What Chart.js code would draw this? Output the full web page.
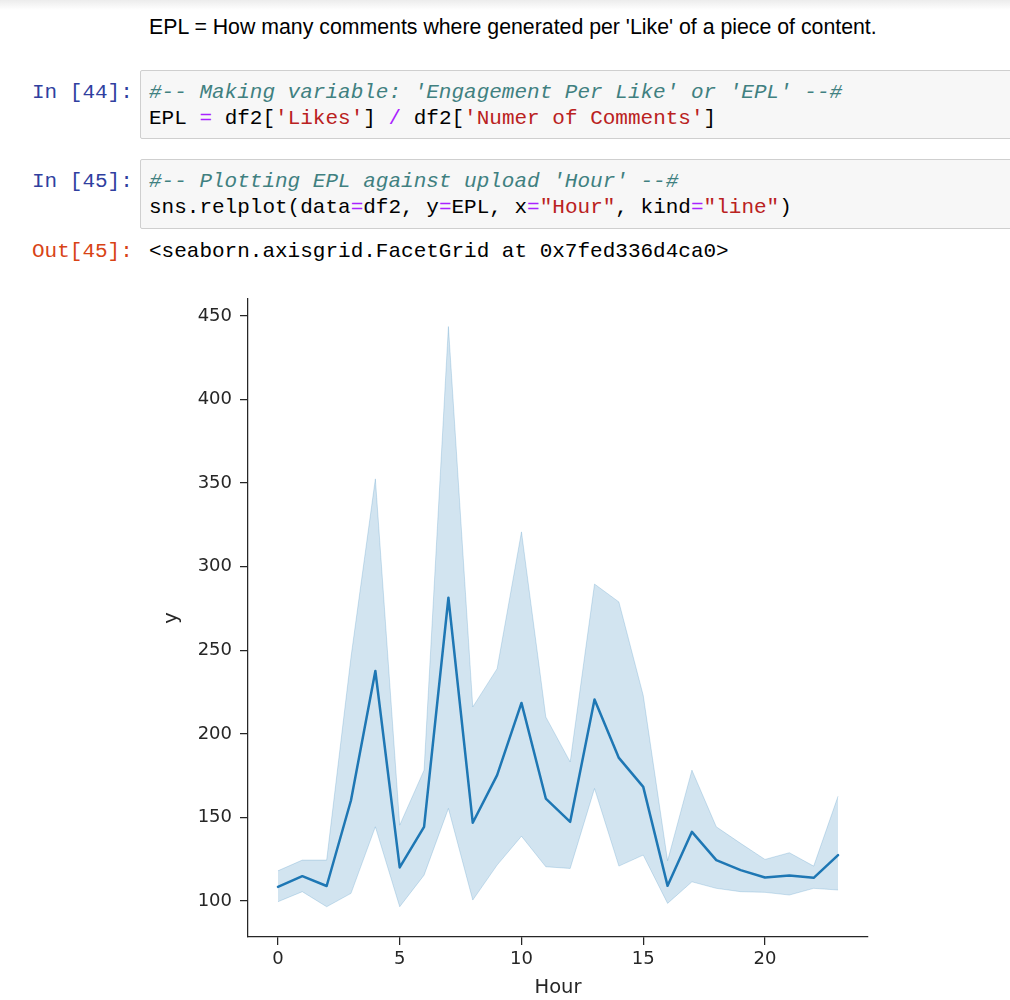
<!DOCTYPE html>
<html>
<head>
<meta charset="utf-8">
<script src="https://cdn.jsdelivr.net/npm/chart.js@4/dist/chart.umd.min.js"></script>
<style>
  body { margin: 0; background: #fff; width: 1010px; height: 1000px; overflow: hidden; position: relative; }
  .shade { position: absolute; left: 0; top: 0; width: 1010px; height: 10px; background: linear-gradient(#ececec, #fff); }
  .md { position: absolute; left: 149px; top: 14px; font: 21.3px "Liberation Sans", Arial, sans-serif; color: #000; line-height: 26px; white-space: nowrap; }
  .prompt { position: absolute; left: 32px; font: 21px "Liberation Mono", monospace; line-height: 26px; white-space: nowrap; }
  .in { color: #303F9F; }
  .out { color: #D84315; }
  .box { position: absolute; left: 140px; width: 900px; background: #f7f7f7; border: 1px solid #cfcfcf; border-radius: 2px; }
  .code { position: absolute; left: 149px; font: 21px "Liberation Mono", monospace; line-height: 26px; white-space: pre; color: #000; }
  .cm { color: #408080; font-style: italic; }
  .st { color: #BA2121; }
  .op { color: #AA22FF; }
  #chartWrap { position: absolute; left: 150px; top: 280px; width: 730px; height: 720px; }
</style>
</head>
<body>
<div class="shade"></div>
<div class="md">EPL = How many comments where generated per 'Like' of a piece of content.</div>

<div class="prompt in" style="top:80px">In [44]:</div>
<div class="box" style="top:70px;height:67px"></div>
<div class="code" style="top:80px"><span class="cm">#-- Making variable: 'Engagement Per Like' or 'EPL' --#</span>
EPL <span class="op">=</span> df2[<span class="st">'Likes'</span>] <span class="op">/</span> df2[<span class="st">'Numer of Comments'</span>]</div>

<div class="prompt in" style="top:169px">In [45]:</div>
<div class="box" style="top:159px;height:68px"></div>
<div class="code" style="top:169px"><span class="cm">#-- Plotting EPL against upload 'Hour' --#</span>
sns.relplot(data<span class="op">=</span>df2, y<span class="op">=</span>EPL, x<span class="op">=</span><span class="st">"Hour"</span>, kind<span class="op">=</span><span class="st">"line"</span>)</div>

<div class="prompt out" style="top:239px">Out[45]:</div>
<div class="code" style="top:239px">&lt;seaborn.axisgrid.FacetGrid at 0x7fed336d4ca0&gt;</div>

<div id="chartWrap"><canvas id="grafico" width="730" height="720"></canvas></div>

<script>
// valores (EPL medio por hora e intervalo de confianca)
const hours = [0, 1, 2, 3, 4, 5, 6, 7, 8, 9, 10, 11, 12, 13, 14, 15, 16, 17, 18, 19, 20, 21, 22, 23];
const eplMean = [108.5, 114.9, 109, 160.3, 237.6, 120.1, 144.4, 281.4, 146.8, 175.3, 218.5, 161.3,
                 147.4, 220.5, 185.6, 168.3, 109.1, 141.4, 124.5, 118.5, 114.1, 115.3, 113.9, 127.5];
const ciUpper = [118.1, 124.5, 124.5, 246, 352.5, 145.4, 178.3, 443.6, 216.1, 239, 320.8, 210.1,
                 183.2, 289.6, 278.9, 223, 124.1, 178.3, 144.4, 134.5, 124.9, 128.9, 120.9, 162.7];
const ciLower = [99.6, 105.6, 96.6, 104.6, 144.4, 96.6, 115.5, 155.4, 100.6, 121.5, 138.8, 120.5,
                 119.5, 167.3, 120.9, 127.5, 98.6, 111.5, 107.6, 105.6, 105.2, 103.6, 107.6, 106.6];
const xTicks = [0, 5, 10, 15, 20];
const yTicks = [100, 150, 200, 250, 300, 350, 400, 450];

const toPoints = vals => hours.map((h, i) => ({ x: h, y: vals[i] }));
const inkColor = "#262626";
const bandColor = "rgba(31,119,180,0.2)";
const tickFont = { family: "DejaVu Sans", size: 18 };
const titleFont = { family: "DejaVu Sans", size: 19.5 };

const grafico = new Chart(document.getElementById("grafico"), {
    type: "line",
    data: {
        datasets: [{
            data: toPoints(ciUpper),
            borderColor: bandColor,
            backgroundColor: bandColor,
            borderWidth: 1,
            borderJoinStyle: "round",
            pointRadius: 0,
            fill: "+1"
        }, {
            data: toPoints(ciLower),
            borderColor: bandColor,
            borderWidth: 1,
            borderJoinStyle: "round",
            pointRadius: 0,
            fill: false
        }, {
            data: toPoints(eplMean),
            borderColor: "#1f77b4",
            borderWidth: 2.5,
            borderJoinStyle: "round",
            borderCapStyle: "round",
            pointRadius: 0,
            fill: false
        }]
    },
    options: {
        responsive: false,
        animation: false,
        layout: { padding: { top: 18, right: 12, left: 0, bottom: 0 } },
        plugins: { legend: { display: false }, tooltip: { enabled: false } },
        scales: {
            x: {
                type: "linear",
                min: -1.23,
                max: 24.23,
                afterBuildTicks: s => { s.ticks = xTicks.map(v => ({ value: v })); },
                afterFit: s => { s.height = 63; },
                grid: { drawOnChartArea: false, drawTicks: true, tickLength: 8, color: inkColor, lineWidth: 1.25 },
                border: { display: true, color: inkColor, width: 1.25 },
                ticks: { font: tickFont, color: inkColor, padding: 4, maxRotation: 0 },
                title: { display: true, text: "Hour", font: titleFont, color: inkColor, padding: { top: 4, bottom: 0 } }
            },
            y: {
                type: "linear",
                min: 78.5,
                max: 460.2,
                afterBuildTicks: s => { s.ticks = yTicks.map(v => ({ value: v })); },
                afterFit: s => { s.width = 98; },
                grid: { drawOnChartArea: false, drawTicks: true, tickLength: 8, color: inkColor, lineWidth: 1.25 },
                border: { display: true, color: inkColor, width: 1.25 },
                ticks: { font: tickFont, color: inkColor, padding: 8 },
                title: { display: true, text: "y", font: titleFont, color: inkColor, padding: { top: 10, bottom: 4 } }
            }
        }
    }
});
</script>
</body>
</html>
